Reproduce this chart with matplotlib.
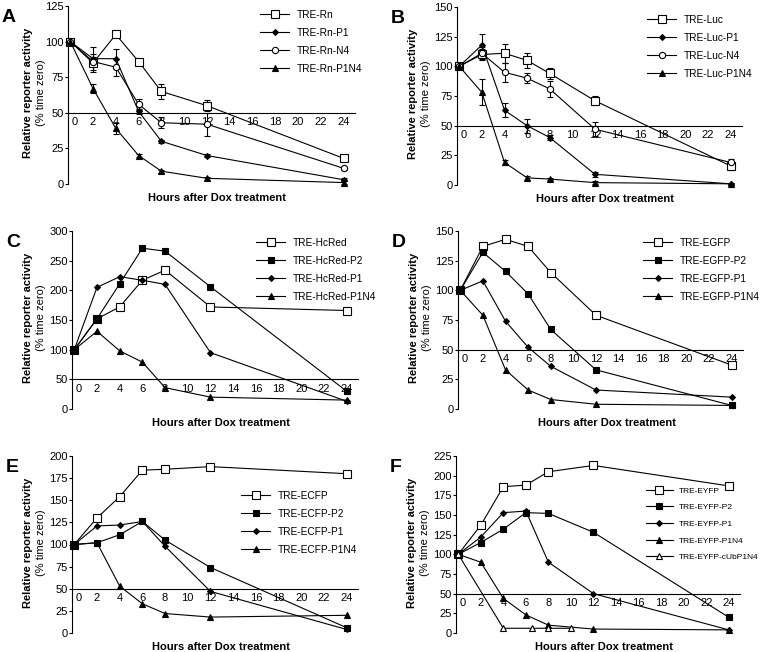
import matplotlib
matplotlib.use("Agg")
import matplotlib.pyplot as plt
from matplotlib.transforms import ScaledTranslation

plt.rcParams["font.family"] = ["Liberation Sans", "DejaVu Sans"]

hours = [0, 2, 4, 6, 8, 12, 24]

# A - TRE-Rn
a_rn = [100, 85, 105, 86, 65, 55, 18]
a_rn_err = [0, 6, 2, 2, 5, 4, 2]
a_p1 = [100, 88, 88, 51, 30, 20, 3]
a_p1_err = [0, 8, 7, 2, 1, 1, 1]
a_n4 = [100, 86, 82, 56, 43, 42, 11]
a_n4_err = [0, 3, 6, 4, 4, 8, 1]
a_p1n4 = [100, 67, 39, 20, 9, 4, 1]
a_p1n4_err = [0, 3, 4, 1, 1, 1, 1]

# B - TRE-Luc
b_luc = [100, 110, 111, 105, 94, 71, 16]
b_luc_err = [0, 5, 8, 6, 5, 4, 3]
b_p1 = [100, 118, 63, 50, 40, 9, 1]
b_p1_err = [0, 9, 6, 6, 2, 2, 1]
b_n4 = [100, 111, 95, 90, 81, 47, 19]
b_n4_err = [0, 5, 8, 4, 7, 6, 3]
b_p1n4 = [100, 78, 19, 6, 5, 2, 1]
b_p1n4_err = [0, 11, 2, 2, 1, 1, 1]

# C - TRE-HcRed
c_hcred = [100, 152, 172, 217, 234, 172, 166]
c_p2 = [100, 152, 211, 271, 266, 206, 30]
c_p1 = [100, 205, 223, 217, 210, 95, 13]
c_p1n4 = [100, 131, 98, 79, 36, 20, 15]

# D - TRE-EGFP
d_egfp = [100, 137, 143, 137, 115, 79, 37]
d_p2 = [100, 132, 116, 97, 67, 33, 3]
d_p1 = [100, 108, 74, 52, 36, 16, 10]
d_p1n4 = [100, 79, 33, 16, 8, 4, 3]

# E - TRE-ECFP
e_ecfp = [100, 130, 154, 184, 185, 188, 180]
e_p2 = [100, 102, 111, 126, 105, 74, 6]
e_p1 = [100, 121, 122, 126, 98, 47, 4]
e_p1n4 = [100, 102, 53, 33, 22, 18, 20]

# F - TRE-EYFP
f_eyfp = [100, 137, 186, 188, 205, 213, 187]
f_p2 = [100, 115, 132, 153, 152, 128, 20]
f_p1 = [100, 122, 153, 155, 90, 50, 4]
f_p1n4 = [100, 90, 44, 23, 10, 5, 4]
f_cub_hours = [0, 4, 6.5, 8, 10]
f_cub = [100, 6, 6, 6, 6]

open_sq = dict(marker="s", mfc="white", ms=5.5)
fill_sq = dict(marker="s", mfc="black", ms=4.5)
diamond = dict(marker="D", mfc="black", ms=3)
open_ci = dict(marker="o", mfc="white", ms=4.5)
tri = dict(marker="^", mfc="black", ms=4.5)
open_tri = dict(marker="^", mfc="white", ms=4.5)

W, H = 760, 652
fig = plt.figure(figsize=(W / 100, H / 100), dpi=100)


def px_axes(left, top, right, bottom):
    return fig.add_axes([left / W, 1 - bottom / H, (right - left) / W, (bottom - top) / H])


def panel(box, letter, ymax, ystep, series, leg_xy, ylab_off=(44, 31),
          leg_fs=7.3, leg_sp=0.78, leg_hl=2.9):
    ax = px_axes(*box)
    for x, y, err, label, style in series:
        if err is not None:
            ax.errorbar(x, y, yerr=err, fmt="none", ecolor="black", elinewidth=0.8,
                        capsize=2.5, capthick=0.8, clip_on=False, zorder=2)
        ax.plot(x, y, color="black", lw=0.8, mec="black", mew=0.8, label=label,
                clip_on=False, zorder=3, **style)
    ax.set_xlim(-0.2, 25)
    ax.set_ylim(0, ymax)
    ax.set_xticks(range(0, 25, 2))
    ax.set_yticks(range(0, ymax + 1, ystep))
    ax.spines["top"].set_visible(False)
    ax.spines["right"].set_visible(False)
    ax.spines["bottom"].set_position(("data", 50))
    for s in ("left", "bottom"):
        ax.spines[s].set_linewidth(0.8)
    ax.tick_params(axis="x", length=0, pad=3, labelsize=8)
    ax.tick_params(axis="y", length=2.5, width=0.8, pad=0.6, labelsize=8)
    ax.patch.set_visible(False)
    zero_lbl = ax.get_xticklabels()[0]
    zero_lbl.set_transform(zero_lbl.get_transform()
                           + ScaledTranslation(4 / 100, 0, fig.dpi_scale_trans))

    l, t, r, b = box
    yc = 1 - ((t + b) / 2 - 2) / H
    fig.text((l - ylab_off[0]) / W, yc, "Relative reporter activity", rotation=90,
             ha="center", va="center", fontsize=8, fontweight="bold")
    fig.text((l - ylab_off[1]) / W, yc, "(% time zero)", rotation=90,
             ha="center", va="center", fontsize=8)
    fig.text(((l + r) / 2 + 6) / W, 1 - (b + 14) / H, "Hours after Dox treatment",
             ha="center", va="center", fontsize=8, fontweight="bold")
    fig.text((l - 66) / W, 1 - (t + 3) / H, letter, ha="left", va="top",
             fontsize=14, fontweight="bold")
    ax.legend(loc="upper left", bbox_to_anchor=(leg_xy[0] / W, 1 - leg_xy[1] / H),
              bbox_transform=fig.transFigure, frameon=False, fontsize=leg_fs,
              borderpad=0, borderaxespad=0, handlelength=leg_hl, handletextpad=0.7,
              labelspacing=leg_sp)
    return ax


panel((68, 6, 355, 184), "A", 125, 25, [
    (hours, a_rn, a_rn_err, "TRE-Rn", open_sq),
    (hours, a_p1, a_p1_err, "TRE-Rn-P1", diamond),
    (hours, a_n4, a_n4_err, "TRE-Rn-N4", open_ci),
    (hours, a_p1n4, a_p1n4_err, "TRE-Rn-P1N4", tri),
], (260, 10), ylab_off=(40, 27))

panel((457, 7, 742, 185), "B", 150, 25, [
    (hours, b_luc, b_luc_err, "TRE-Luc", open_sq),
    (hours, b_p1, b_p1_err, "TRE-Luc-P1", diamond),
    (hours, b_n4, b_n4_err, "TRE-Luc-N4", open_ci),
    (hours, b_p1n4, b_p1n4_err, "TRE-Luc-P1N4", tri),
], (647, 15))

panel((72, 231, 358, 409), "C", 300, 50, [
    (hours, c_hcred, None, "TRE-HcRed", open_sq),
    (hours, c_p2, None, "TRE-HcRed-P2", fill_sq),
    (hours, c_p1, None, "TRE-HcRed-P1", diamond),
    (hours, c_p1n4, None, "TRE-HcRed-P1N4", tri),
], (256, 238))

panel((458, 231, 743, 409), "D", 150, 25, [
    (hours, d_egfp, None, "TRE-EGFP", open_sq),
    (hours, d_p2, None, "TRE-EGFP-P2", fill_sq),
    (hours, d_p1, None, "TRE-EGFP-P1", diamond),
    (hours, d_p1n4, None, "TRE-EGFP-P1N4", tri),
], (643, 238))

panel((72, 456, 358, 633), "E", 200, 25, [
    (hours, e_ecfp, None, "TRE-ECFP", open_sq),
    (hours, e_p2, None, "TRE-ECFP-P2", fill_sq),
    (hours, e_p1, None, "TRE-ECFP-P1", diamond),
    (hours, e_p1n4, None, "TRE-ECFP-P1N4", tri),
], (241, 491))

panel((456, 456, 740, 633), "F", 225, 25, [
    (hours, f_eyfp, None, "TRE-EYFP", open_sq),
    (hours, f_p2, None, "TRE-EYFP-P2", fill_sq),
    (hours, f_p1, None, "TRE-EYFP-P1", diamond),
    (hours, f_p1n4, None, "TRE-EYFP-P1N4", tri),
    (f_cub_hours, f_cub, None, "TRE-EYFP-cUbP1N4", open_tri),
], (646, 487), leg_fs=6, leg_sp=1.05, leg_hl=3.2)

fig.savefig("out.png", dpi=100)
